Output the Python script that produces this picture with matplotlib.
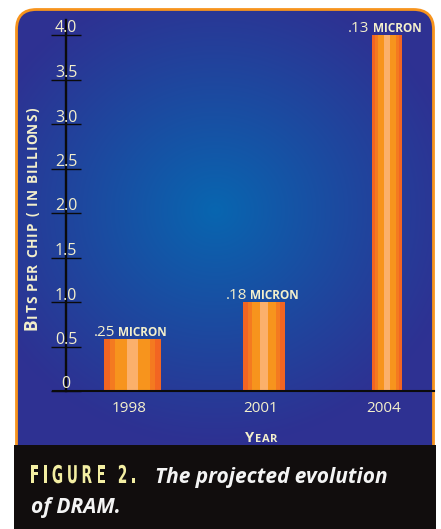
import numpy as np
import matplotlib.pyplot as plt
from matplotlib.colors import to_rgb
from matplotlib.patches import FancyBboxPatch, Rectangle, PathPatch
from matplotlib.textpath import TextPath
from matplotlib.font_manager import FontProperties
from matplotlib.transforms import Affine2D

# DRAM density per generation
years = ['1998', '2001', '2004']
bits = [0.58, 1.0, 4.0]             # bits per chip, billions
microns = [0.25, 0.18, 0.13]        # process feature size
micron_labels = ['.25', '.18', '.13']
yticks = [0, 0.5, 1.0, 1.5, 2.0, 2.5, 3.0, 3.5, 4.0]
ytick_labels = ['0', '0.5', '1.0', '1.5', '2.0', '2.5', '3.0', '3.5', '4.0']

W, H = 441, 529
CREAM = '#F4F0CC'
FONT = 'Open Sans'

fig = plt.figure(figsize=(W / 100, H / 100), dpi=100)
fig.patch.set_facecolor('white')
renderer = fig.canvas.get_renderer()

# pixel-space background layer
bg = fig.add_axes([0, 0, 1, 1])
bg.set_xlim(0, W)
bg.set_ylim(H, 0)
bg.axis('off')

panel = FancyBboxPatch((16.5, 9.5), 417, 470,
                       boxstyle='round,pad=0,rounding_size=20',
                       facecolor='none', edgecolor='#F7941D', lw=2, zorder=2)
bg.add_patch(panel)

# radial blue glow on the panel
yy, xx = np.mgrid[0:H, 0:W]
r = np.hypot((xx - 215) / 250.0, (yy - 210) / 235.0)
t = np.clip(1 - r, 0, 1) ** 1.1
c_edge = np.array(to_rgb('#2E3192'))
c_mid = np.array(to_rgb('#0866B0'))
img = c_edge + (c_mid - c_edge) * t[..., None]
im = bg.imshow(img, extent=(0, W, H, 0), zorder=1, interpolation='bilinear')
im.set_clip_path(panel)
bg.set_xlim(0, W)
bg.set_ylim(H, 0)

# caption box
bg.add_patch(Rectangle((14, 445), 422, 84, facecolor='#110D0D', lw=0, zorder=3))

# condensed, letter-spaced "FIGURE 2."
fp = FontProperties(family='DejaVu Sans', weight='bold')
x = 31
for ch in 'FIGURE 2.':
    if ch == ' ':
        x += 8
        continue
    tp = TextPath((0, 0), ch, size=24.5, prop=fp)
    ext = tp.get_extents()
    tr = Affine2D().translate(-ext.x0, 0).scale(0.56, -1).translate(x, 483)
    bg.add_patch(PathPatch(tr.transform_path(tp), facecolor='#F3EEA2',
                           lw=0, zorder=4))
    x += ext.width * 0.56 + 6


bg.text(155, 483, 'The projected evolution', fontsize=15, style='italic',
        weight='bold', family=FONT, color='#F4F4F4', va='baseline', zorder=4)
bg.text(31, 513, 'of DRAM.', fontsize=15, style='italic',
        weight='bold', family=FONT, color='#F4F4F4', va='baseline', zorder=4)


def small_caps(x, y, parts, rotation=0, track=0.5):
    # draw (text, size) pieces one character at a time along the baseline
    for s, size in parts:
        for ch in s:
            txt = bg.text(x, y, ch, fontsize=size, weight='bold', family=FONT,
                          color=CREAM, rotation=rotation, rotation_mode='anchor',
                          ha='left', va='baseline', zorder=4)
            adv = txt.get_window_extent(renderer)
            if ch == ' ':
                step = size * 1.389 * 0.4
            else:
                step = (adv.height if rotation == 90 else adv.width) + track
            if rotation == 90:
                y -= step
            else:
                x += step


small_caps(37, 330, [('B', 12.5), ('ITS PER CHIP ( IN BILLIONS)', 9.8)],
           rotation=90, track=0.85)
small_caps(245, 442, [('Y', 10.5), ('EAR', 8)], track=0.6)

# chart axes
x0, x1, ybase, ytop = 53, 434, 391, 20
ax = fig.add_axes([x0 / W, 1 - ybase / H, (x1 - x0) / W, (ybase - ytop) / H])
ax.patch.set_alpha(0)
px_per_unit = 89.0
ax.set_ylim(0, (ybase - ytop) / px_per_unit)
slot = 131.5
ax.set_xlim((x0 - 132.5) / slot, (x1 - 132.5) / slot)
xpos = [0, 1, 1.935]

stripe_colors = ['#F26522', '#F47A20', '#F7941D', '#FBB06B',
                 '#F7941D', '#F47A20', '#F26522']
stripe_fracs = [0.1, 0.1, 0.2, 0.2, 0.2, 0.1, 0.1]
for xc, v, m in zip(xpos, bits, microns):
    w = m * 228 / slot
    left = xc - w / 2
    for c, f in zip(stripe_colors, stripe_fracs):
        ax.bar(left, v, width=f * w, align='edge', color=c, lw=0, zorder=2)
        left += f * w

for xc, v, lab in zip(xpos, bits, micron_labels):
    ax.annotate(lab, (xc, v), xytext=(-12.4, 2.5), textcoords='offset points',
                ha='right', va='baseline', fontsize=11, family=FONT, color=CREAM)
    ax.annotate('MICRON', (xc, v), xytext=(-10.2, 2.5), textcoords='offset points',
                ha='left', va='baseline', fontsize=8.5, weight='bold',
                family=FONT, color=CREAM)

for xc, yr in zip(xpos, years):
    ax.annotate(yr, (xc, 0), xytext=(-2.5, -15), textcoords='offset points',
                ha='center', va='baseline', fontsize=11, family=FONT,
                color=CREAM, annotation_clip=False)

spine_x = (66 - x0) / (x1 - x0)
for v, lab in zip(yticks, ytick_labels):
    ax.annotate(lab, (spine_x, v), xycoords=('axes fraction', 'data'),
                xytext=(0, 1.8), textcoords='offset points', ha='center',
                va='baseline', fontsize=11.5, family=FONT, color=CREAM,
                annotation_clip=False)

for s in ['top', 'right']:
    ax.spines[s].set_visible(False)
ax.spines['left'].set_position(('axes', spine_x))
ax.spines['left'].set_linewidth(1.7)
ax.spines['left'].set_color('#0B0B0B')
ax.spines['bottom'].set_linewidth(1.5)
ax.spines['bottom'].set_color('#0B0B0B')
ax.set_yticks(yticks)
ax.set_xticks([])
ax.tick_params(axis='y', direction='inout', length=21, width=1.0,
               color='#0B0B0B', labelleft=False)

fig.savefig('out.png', dpi=100)
